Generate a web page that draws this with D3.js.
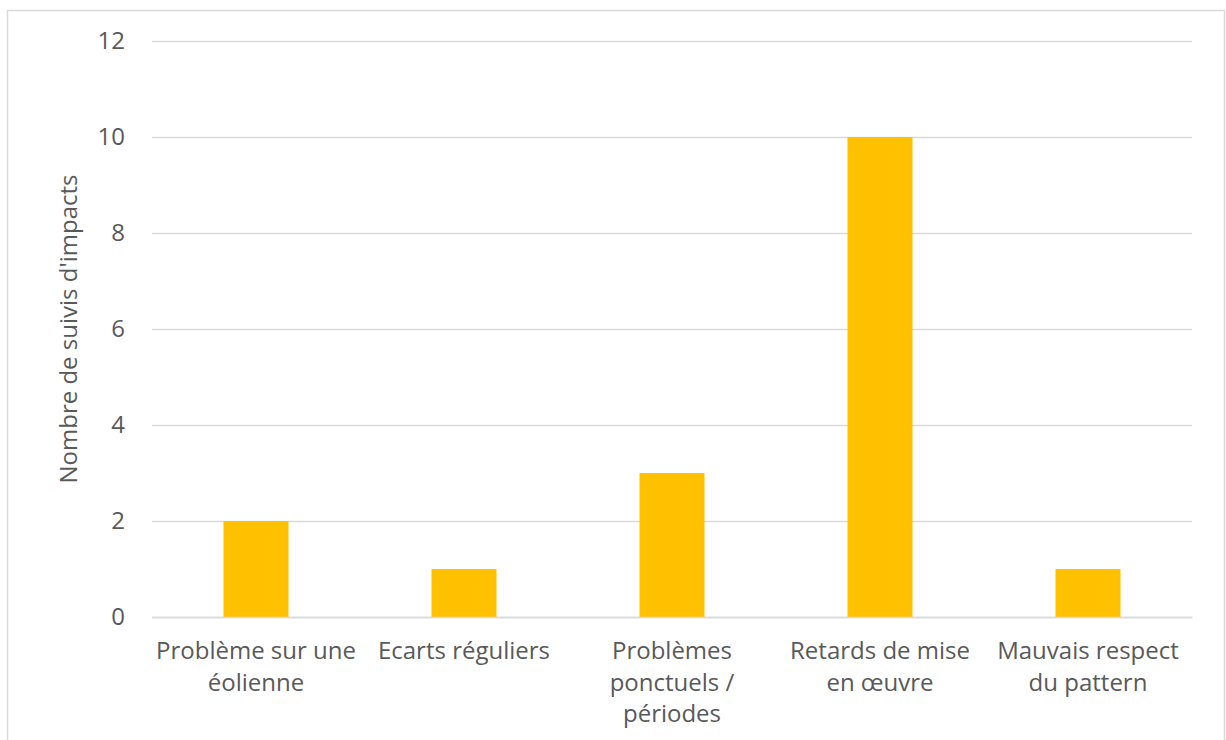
<!DOCTYPE html>
<html><head><meta charset="utf-8">
<script src="https://cdn.jsdelivr.net/npm/d3@7"></script>
<style>body{margin:0;background:#fff;}svg{display:block;}</style>
</head><body>
<script>
const categories = ["Problème sur une éolienne", "Ecarts réguliers", "Problèmes ponctuels / périodes", "Retards de mise en œuvre", "Mauvais respect du pattern"];
const categoryLines = [["Problème sur une", "éolienne"], ["Ecarts réguliers"], ["Problèmes", "ponctuels /", "périodes"], ["Retards de mise", "en œuvre"], ["Mauvais respect", "du pattern"]];
const values = [2, 1, 3, 10, 1];
const yTicks = [0, 2, 4, 6, 8, 10, 12];
const yTitle = "Nombre de suivis d'impacts";

(function () {
const W = 1226, H = 740;
const font = "'Open Sans', sans-serif";
const fs = "24px";
const svg = d3.select("body").append("svg").attr("width", W).attr("height", H);
svg.append("rect").attr("x", 7.5).attr("y", 10.5).attr("width", 1217).attr("height", 740)
  .attr("fill", "#fff").attr("stroke", "#d9d9d9").attr("stroke-width", 1.5);

const pL = 152, pR = 1192, pT = 41, pB = 617;
const x = d3.scaleBand().domain(categories).range([pL, pR]).paddingInner(0.6875).paddingOuter(0.34375);
const y = d3.scaleLinear().domain([0, 12]).range([pB, pT]);

const yAxis = d3.axisLeft(y).tickValues(yTicks).tickSize(-(pR - pL)).tickPadding(27);
const gy = svg.append("g").attr("transform", `translate(${pL},0)`).call(yAxis);
gy.select(".domain").remove();
gy.selectAll(".tick line").attr("stroke", "#d9d9d9").attr("stroke-width", 1.5);
gy.selectAll(".tick text").attr("fill", "#595959").style("font-family", font).style("font-size", fs);

svg.append("g").selectAll("rect").data(values).join("rect")
  .attr("x", (d, i) => x(categories[i]))
  .attr("width", x.bandwidth())
  .attr("y", d => y(d))
  .attr("height", d => y(0) - y(d))
  .attr("fill", "#FFC000");

const xAxis = d3.axisBottom(x).tickSize(0).tickFormat("");
const gx = svg.append("g").attr("transform", `translate(0,${pB})`).call(xAxis);
gx.select(".domain").attr("stroke", "#d9d9d9").attr("stroke-width", 1.5);

const labels = svg.append("g");
categories.forEach((c, i) => {
  const cx = x(c) + x.bandwidth() / 2;
  const t = labels.append("text")
    .attr("x", cx).attr("y", 659)
    .attr("text-anchor", "middle")
    .attr("fill", "#595959")
    .style("font-family", font).style("font-size", fs);
  categoryLines[i].forEach((ln, j) => {
    t.append("tspan").attr("x", cx).attr("dy", j === 0 ? 0 : 31.5).text(ln);
  });
});

svg.append("text")
  .attr("transform", `translate(77,${(pT + pB) / 2}) rotate(-90)`)
  .attr("text-anchor", "middle")
  .attr("fill", "#595959")
  .style("font-family", font).style("font-size", fs)
  .text(yTitle);
})();
</script>
</body></html>
